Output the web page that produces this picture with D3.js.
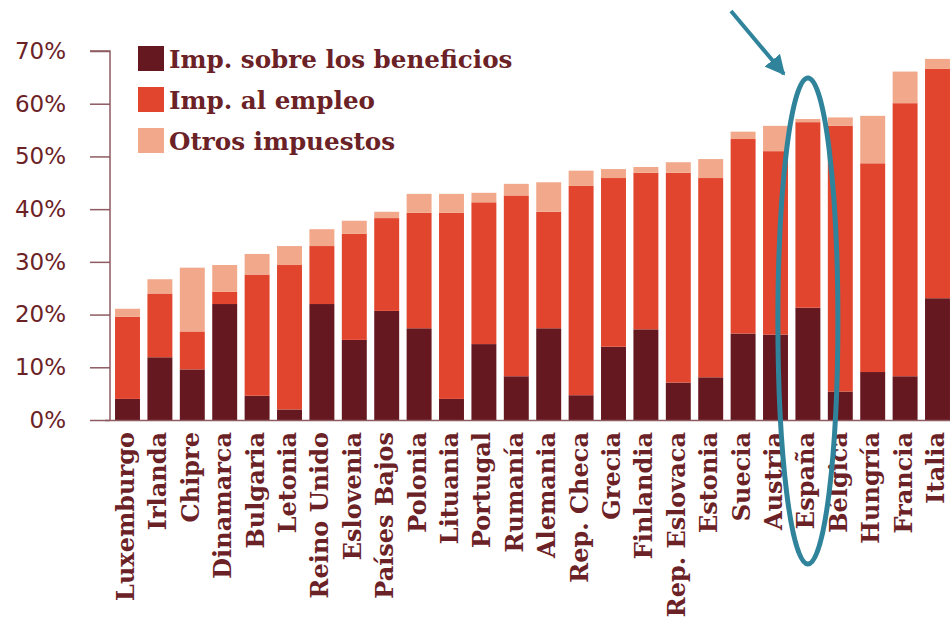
<!DOCTYPE html>
<html>
<head>
<meta charset="utf-8">
<script src="https://cdn.jsdelivr.net/npm/d3@7"></script>
<style>
  html, body { margin: 0; padding: 0; background: #fff; overflow: hidden; }
  svg { display: block; }
</style>
</head>
<body>
<div id="chart"></div>
<script>
(function () {
  'use strict';

  var countries = ['Luxemburgo', 'Irlanda', 'Chipre', 'Dinamarca', 'Bulgaria', 'Letonia',
    'Reino Unido', 'Eslovenia', 'Países Bajos', 'Polonia', 'Lituania', 'Portugal', 'Rumanía',
    'Alemania', 'Rep. Checa', 'Grecia', 'Finlandia', 'Rep. Eslovaca', 'Estonia', 'Suecia',
    'Austria', 'España', 'Bélgica', 'Hungría', 'Francia', 'Italia'];

  // % of commercial profits
  var beneficios = [4.0, 11.9, 9.6, 22.0, 4.6, 2.0, 22.0, 15.2, 20.7, 17.4, 4.0, 14.4, 8.3,
    17.4, 4.7, 13.9, 17.2, 7.1, 8.1, 16.4, 16.2, 21.3, 5.4, 9.1, 8.3, 23.1];
  var empleo = [15.6, 12.1, 7.2, 2.3, 23.0, 27.4, 11.0, 20.1, 17.6, 21.9, 35.3, 26.9, 34.3,
    22.1, 39.7, 32.0, 29.7, 39.8, 37.8, 36.9, 34.8, 35.2, 50.4, 39.6, 51.8, 43.5];
  var otros = [1.5, 2.7, 12.1, 5.1, 3.9, 3.6, 3.2, 2.5, 1.2, 3.6, 3.6, 1.8, 2.2,
    5.6, 2.9, 1.7, 1.1, 2.0, 3.6, 1.4, 4.8, 0.6, 1.6, 9.0, 6.0, 1.9];

  var seriesNames = ['Imp. sobre los beneficios', 'Imp. al empleo', 'Otros impuestos'];
  var yTicks = [0, 10, 20, 30, 40, 50, 60, 70];
  var highlight = 'España';

  var width = 950;
  var height = 622;
  var colors = ['#661820', '#e2452d', '#f2a98b'];
  var textColor = '#6b2226';
  var axisColor = '#8d5b60';
  var teal = '#2f849b';

  var rows = countries.map(function (c, i) {
    return { country: c, beneficios: beneficios[i], empleo: empleo[i], otros: otros[i] };
  });
  var keys = ['beneficios', 'empleo', 'otros'];
  var stacked = d3.stack().keys(keys)(rows);

  var x = d3.scaleBand().domain(countries).range([111.3, 953.7])
    .paddingInner(0.23).paddingOuter(0.115);
  var y = d3.scaleLinear().domain([0, 70]).range([420, 51]);

  var svg = d3.select('#chart').append('svg')
    .attr('width', width).attr('height', height)
    .attr('viewBox', [0, 0, width, height]);

  // bars
  svg.append('g').selectAll('g').data(stacked).join('g')
    .attr('fill', function (d, i) { return colors[i]; })
    .selectAll('rect').data(function (d) { return d; }).join('rect')
    .attr('x', function (d) { return x(d.data.country); })
    .attr('width', x.bandwidth())
    .attr('y', function (d) { return y(d[1]); })
    .attr('height', function (d) { return y(d[0]) - y(d[1]); });

  // y axis
  var yAxis = svg.append('g').attr('transform', 'translate(110,0)')
    .call(d3.axisLeft(y).tickValues(yTicks).tickSize(20).tickPadding(24)
      .tickFormat(function (d) { return d + '%'; }));
  yAxis.select('.domain').attr('stroke', axisColor).attr('stroke-width', 1.5)
    .attr('d', 'M-20,' + y(70) + 'H0V' + y(0));
  yAxis.selectAll('.tick line').attr('stroke', axisColor).attr('stroke-width', 1.5);
  yAxis.selectAll('.tick text').attr('fill', textColor)
    .attr('font-family', 'DejaVu Sans, sans-serif').attr('font-size', 23);

  // baseline
  svg.append('line').attr('x1', 105).attr('x2', width)
    .attr('y1', y(0) + 0.5).attr('y2', y(0) + 0.5)
    .attr('stroke', axisColor).attr('stroke-width', 1.5);

  // x labels
  svg.append('g').selectAll('text').data(countries).join('text')
    .attr('transform', function (d) {
      return 'translate(' + (x(d) + x.bandwidth() / 2 - 2) + ',432) rotate(-90)';
    })
    .attr('text-anchor', 'end')
    .attr('dy', '0.35em')
    .attr('fill', textColor)
    .attr('font-family', 'DejaVu Serif, serif')
    .attr('font-weight', 'bold')
    .attr('font-size', 24)
    .text(function (d) { return d; });

  // legend
  var legend = svg.append('g').selectAll('g').data(seriesNames).join('g')
    .attr('transform', function (d, i) { return 'translate(138,' + (46 + i * 41) + ')'; });
  legend.append('rect').attr('width', 26).attr('height', 25)
    .attr('fill', function (d, i) { return colors[i]; });
  legend.append('text').attr('x', 31).attr('y', 13).attr('dy', '0.35em')
    .attr('fill', textColor)
    .attr('font-family', 'DejaVu Serif, serif')
    .attr('font-weight', 'bold')
    .attr('font-size', 24.6)
    .text(function (d) { return d; });

  // highlight: ellipse round Spain and arrow
  var cx = x(highlight) + x.bandwidth() / 2;
  svg.append('ellipse')
    .attr('cx', cx).attr('cy', 321).attr('rx', 30).attr('ry', 243)
    .attr('fill', 'none').attr('stroke', teal).attr('stroke-width', 5);

  svg.append('defs').append('marker')
    .attr('id', 'arrowhead').attr('viewBox', '0 0 10 10')
    .attr('refX', 9).attr('refY', 5)
    .attr('markerWidth', 5).attr('markerHeight', 5)
    .attr('markerUnits', 'strokeWidth')
    .attr('orient', 'auto')
    .append('path').attr('d', 'M0,0L10,5L0,10z').attr('fill', teal);
  svg.append('line')
    .attr('x1', 731).attr('y1', 11).attr('x2', cx - 24).attr('y2', 74)
    .attr('stroke', teal).attr('stroke-width', 4)
    .attr('marker-end', 'url(#arrowhead)');
})();
</script>
</body>
</html>
